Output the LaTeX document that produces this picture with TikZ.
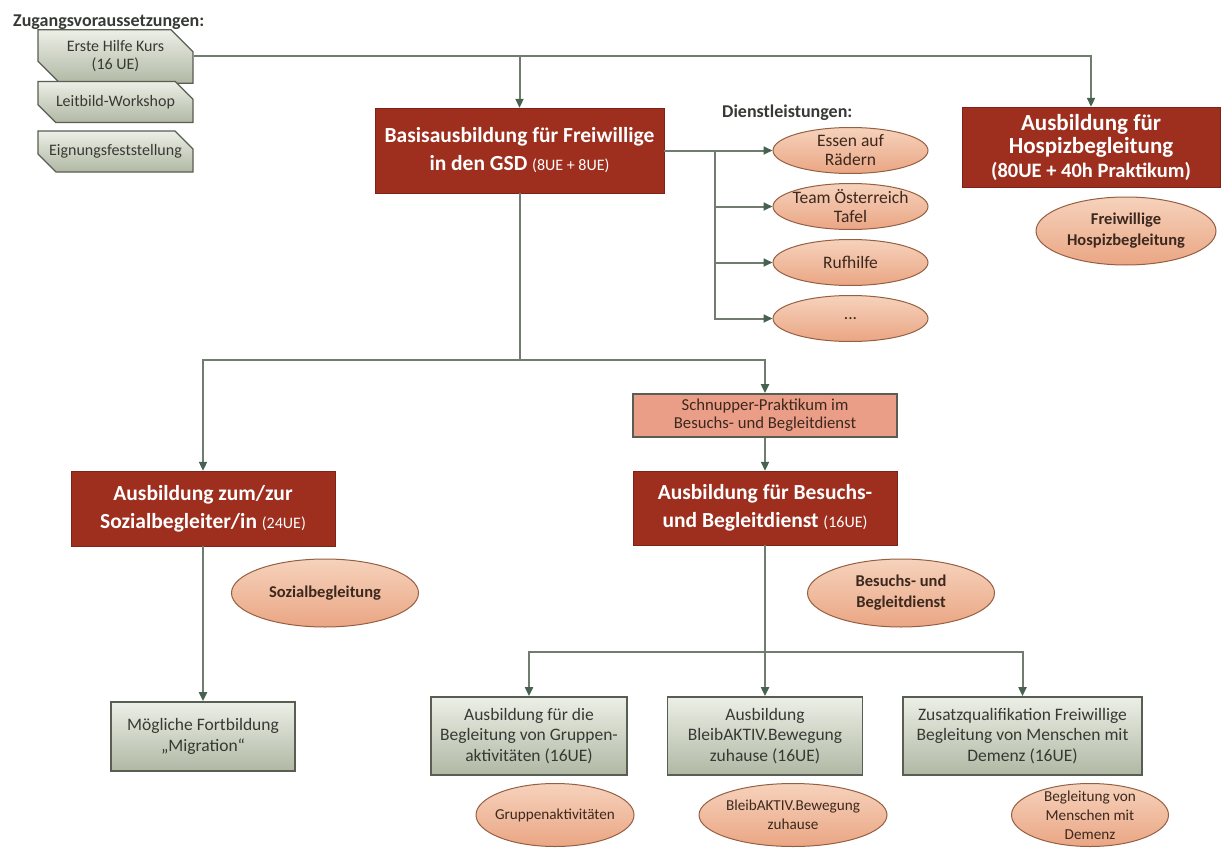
\documentclass[tikz,border=0pt]{standalone}
\usepackage{fontspec}
\setmainfont{Carlito}
\usepackage{tikz}
\usetikzlibrary{shapes, arrows.meta, positioning}
\definecolor{rot}{RGB}{158,46,30}
\definecolor{rotrand}{RGB}{125,36,24}
\definecolor{lachshell}{RGB}{246,210,188}
\definecolor{lachs}{RGB}{234,166,132}
\definecolor{lachsrand}{RGB}{150,95,65}
\definecolor{lachstext}{RGB}{60,40,30}
\definecolor{grauhell}{RGB}{236,239,230}
\definecolor{graudunkel}{RGB}{176,184,164}
\definecolor{graurand}{RGB}{88,94,82}
\definecolor{grautext}{RGB}{55,58,52}
\definecolor{schnupperfarbe}{RGB}{235,158,135}
\definecolor{linienfarbe}{RGB}{112,124,112}
\definecolor{spitze}{RGB}{72,98,80}
\newcommand{\klein}[1]{{\fontsize{16}{16}\selectfont\mdseries #1}}
\tikzstyle{titel} = [font=\fontsize{18}{20}\selectfont\bfseries, text=grautext, inner sep=0pt]
\tikzstyle{zugangbox} = [chamfered rectangle, chamfered rectangle corners={north east, south west}, chamfered rectangle xsep=11pt, chamfered rectangle ysep=11pt, draw=graurand, line width=1.2pt, top color=grauhell, bottom color=graudunkel, align=center, text=grautext, font=\fontsize{16}{18}\selectfont, inner sep=0pt, minimum width=155pt, minimum height=41pt]
\tikzstyle{graubox} = [rectangle, draw=graurand, line width=1.8pt, top color=grauhell, bottom color=graudunkel, align=center, text=grautext, font=\fontsize{17.5}{20.5}\selectfont, inner sep=0pt, minimum height=78pt]
\tikzstyle{rotbox} = [rectangle, draw=rotrand, fill=rot, text=white, align=center, inner sep=0pt, font=\fontsize{21.5}{28}\selectfont\bfseries]
\tikzstyle{dienst} = [ellipse, draw=lachsrand, line width=1pt, top color=lachshell, bottom color=lachs, align=center, text=lachstext, inner xsep=-12pt, inner ysep=-6pt, minimum width=155pt, minimum height=46pt, font=\fontsize{17.5}{19}\selectfont]
\tikzstyle{ziel} = [dienst, font=\fontsize{16.5}{21}\selectfont\bfseries, minimum width=187pt, minimum height=68pt]
\tikzstyle{angebot} = [dienst, font=\fontsize{15.2}{19}\selectfont, minimum height=63pt]
\tikzstyle{linie} = [draw=linienfarbe, line width=2pt]
\tikzstyle{pfeil} = [linie, -{Triangle[length=9pt,width=8pt,color=spitze]}]

\begin{document}
\begin{tikzpicture}[x=1pt, y=-1pt]
	\useasboundingbox (0,0) rectangle (1223,848);
	% Zugangsvoraussetzungen
	\node[titel, anchor=west] (zugang) at (13,22) {Zugangsvoraussetzungen:};
	\node[zugangbox] (erste) at (115.5,56.5) {Erste Hilfe Kurs\\(16 UE)};
	\node[zugangbox] (leitbild) at (115.5,102) {Leitbild-Workshop};
	\node[zugangbox] (eignung) at (115.5,151.5) {Eignungsfeststellung};
	
	% Basisausbildung und Dienstleistungen
	\node[rotbox, minimum width=289pt, minimum height=85pt] (basis) at (519.5,150.5) {Basisausbildung für Freiwillige\\in den GSD \klein{(8UE + 8UE)}};
	\node[titel, anchor=west] (dienstl) at (722,113) {Dienstleistungen:};
	\node[dienst] (essen) at (850.5,150.5) {Essen auf\\Rädern};
	\node[dienst, below=9pt of essen] (tafel) {Team Österreich\\Tafel};
	\node[dienst, below=9pt of tafel] (ruf) {Rufhilfe};
	\node[dienst, below=9pt of ruf] (mehr) {...};
	
	% Hospiz
	\node[rotbox, minimum width=258pt, minimum height=80pt, font=\fontsize{23}{23.5}\selectfont\bfseries] (hospiz) at (1091,147) {Ausbildung für\\Hospizbegleitung\\{\fontsize{20.5}{23.5}\selectfont(80UE + 40h Praktikum)}};
	\node[ziel, minimum width=180pt] (hospell) at (1126,231) {Freiwillige\\Hospizbegleitung};
	
	% Sozialbegleitung
	\node[rotbox, minimum width=264pt, minimum height=75pt] (sozial) at (203,508.5) {Ausbildung zum/zur\\Sozialbegleiter/in \klein{(24UE)}};
	\node[ziel] (sozell) at (325,593) {Sozialbegleitung};
	\node[graubox, minimum width=184pt, minimum height=69pt] (fort) at (203,736.5) {Mögliche Fortbildung\\„Migration“};
	
	% Besuchs- und Begleitdienst
	\node[rectangle, draw=graurand, line width=1.8pt, fill=schnupperfarbe, text=lachstext, align=center, inner sep=0pt, minimum width=264pt, minimum height=43pt, font=\fontsize{16.7}{18}\selectfont] (schnupper) at (765,415.5) {Schnupper-Praktikum im\\Besuchs- und Begleitdienst};
	\node[rotbox, minimum width=264pt, minimum height=74pt] (besuch) at (765,508) {Ausbildung für Besuchs-\\und Begleitdienst \klein{(16UE)}};
	\node[ziel] (besell) at (901,593) {Besuchs- und\\Begleitdienst};
	
	\node[graubox, minimum width=196pt] (grp) at (529,736) {Ausbildung für die\\Begleitung von Gruppen-\\aktivitäten (16UE)};
	\node[graubox, minimum width=195pt] (bleib) at (765,736) {Ausbildung\\BleibAKTIV.Bewegung\\zuhause (16UE)};
	\node[graubox, minimum width=239pt] (zus) at (1022.5,736) {Zusatzqualifikation Freiwillige\\Begleitung von Menschen mit\\Demenz (16UE)};
	\node[angebot, minimum width=158pt] (grpell) at (555,815) {Gruppenaktivitäten};
	\node[angebot, minimum width=188pt] (bleibell) at (793,815) {BleibAKTIV.Bewegung\\zuhause};
	\node[angebot, minimum width=157pt] (demell) at (1090,815) {Begleitung von\\Menschen mit\\Demenz};
	
	% Verbindungen
	\coordinate (k1) at (basis.north |- erste.east);
	\draw[pfeil] (erste.east) -| (hospiz.north);
	\draw[pfeil] (k1) -- (basis.north);
	\coordinate[right=51pt of basis.east] (k2);
	\draw[linie] (basis.east) -- (k2);
	\foreach \d in {essen, tafel, ruf, mehr}
		\draw[pfeil] (k2) |- (\d.west);
	\coordinate (k3) at (basis.south |- 0,360);
	\draw[linie] (basis.south) -- (k3);
	\draw[pfeil] (k3) -| (sozial.north);
	\draw[pfeil] (k3) -| (schnupper.north);
	\draw[pfeil] (schnupper.south) -- (besuch.north);
	\draw[pfeil] (sozial.south) -- (fort.north);
	\coordinate (k4) at (besuch.south |- 0,652);
	\draw[linie] (besuch.south) -- (k4);
	\foreach \z in {grp, bleib, zus}
		\draw[pfeil] (k4) -| (\z.north);
\end{tikzpicture}
\end{document}
